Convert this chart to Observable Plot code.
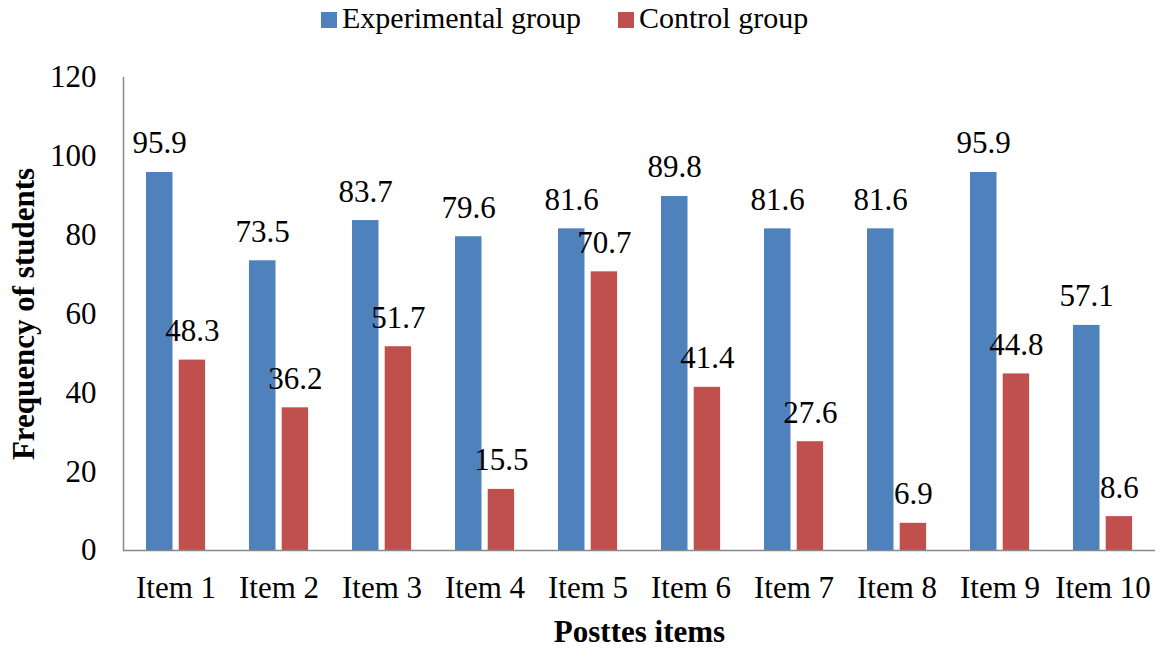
<!DOCTYPE html>
<html>
<head>
<meta charset="utf-8">
<script src="https://cdn.jsdelivr.net/npm/d3@7"></script>
<script src="https://cdn.jsdelivr.net/npm/@observablehq/plot@0.6"></script>
<style>
  html, body { margin: 0; padding: 0; background: white; }
  #legend { position: relative; height: 45px; font-family: "Liberation Serif", "Times New Roman", serif; font-size: 30px; color: black; }
  #legend .item { position: absolute; top: 12px; display: flex; align-items: flex-start; }
  #legend .sw { width: 16px; height: 16px; margin-right: 5px; }
  #legend .lb { line-height: 16px; margin-top: -2px; white-space: nowrap; }
</style>
</head>
<body>
<div id="legend"></div>
<div id="chart"></div>
<script>
const items = ["Item 1", "Item 2", "Item 3", "Item 4", "Item 5", "Item 6", "Item 7", "Item 8", "Item 9", "Item 10"];
const groups = ["Experimental group", "Control group"];
const experimental = [95.9, 73.5, 83.7, 79.6, 81.6, 89.8, 81.6, 81.6, 95.9, 57.1];
const control = [48.3, 36.2, 51.7, 15.5, 70.7, 41.4, 27.6, 6.9, 44.8, 8.6];
const yTicks = [0, 20, 40, 60, 80, 100, 120];
const colors = ["#4F81BD", "#C0504D"];
const yTitle = "Frequency of students";
const xTitle = "Posttes items";

const expRows = items.map((item, i) => ({item, group: groups[0], value: experimental[i]}));
const ctlRows = items.map((item, i) => ({item, group: groups[1], value: control[i]}));

// legend
const legend = document.getElementById("legend");
const legendX = [321, 618];
groups.forEach((g, i) => {
  const it = document.createElement("div");
  it.className = "item";
  it.style.left = legendX[i] + "px";
  it.innerHTML = `<div class="sw" style="background:${colors[i]}"></div><div class="lb">${g}</div>`;
  legend.appendChild(it);
});

const axisColor = "#898989";
const fmt = d => d.value.toFixed(1);

const chart = Plot.plot({
  width: 1161,
  height: 603,
  marginTop: 32,
  marginBottom: 98,
  marginLeft: 123,
  marginRight: 6,
  style: {fontFamily: "'Liberation Serif', 'Times New Roman', serif", fontSize: "31px", color: "black", background: "white"},
  x: {domain: items, padding: 0, label: null},
  y: {domain: [0, 120], label: null},
  color: {domain: groups, range: colors},
  marks: [
    Plot.barY(expRows, {x: "item", y: "value", fill: "group", insetLeft: 22, insetRight: 54.5}),
    Plot.barY(ctlRows, {x: "item", y: "value", fill: "group", insetLeft: 54.7, insetRight: 21.9}),
    Plot.ruleY([0], {stroke: axisColor, strokeWidth: 1.5}),
    Plot.frame({anchor: "left", stroke: axisColor, strokeWidth: 1.5}),
    Plot.axisY({ticks: yTicks, tickSize: 0, tickPadding: 27, label: null}),
    Plot.axisX({tickSize: 0, tickPadding: 25, label: null}),
    Plot.text(expRows, {x: "item", y: "value", text: fmt, dx: -16.3, dy: -29, lineAnchor: "middle"}),
    Plot.text(ctlRows, {x: "item", y: "value", text: fmt, dx: 16.4, dy: -29, lineAnchor: "middle"}),
    Plot.text([yTitle], {frameAnchor: "left", text: d => d, rotate: -90, dx: -99.5, textAnchor: "middle", lineAnchor: "middle", fontWeight: "bold", fontSize: 31}),
    Plot.text([xTitle], {frameAnchor: "bottom", text: d => d, dy: 82, textAnchor: "middle", lineAnchor: "middle", fontWeight: "bold", fontSize: 31})
  ]
});
document.getElementById("chart").appendChild(chart);
</script>
</body>
</html>
